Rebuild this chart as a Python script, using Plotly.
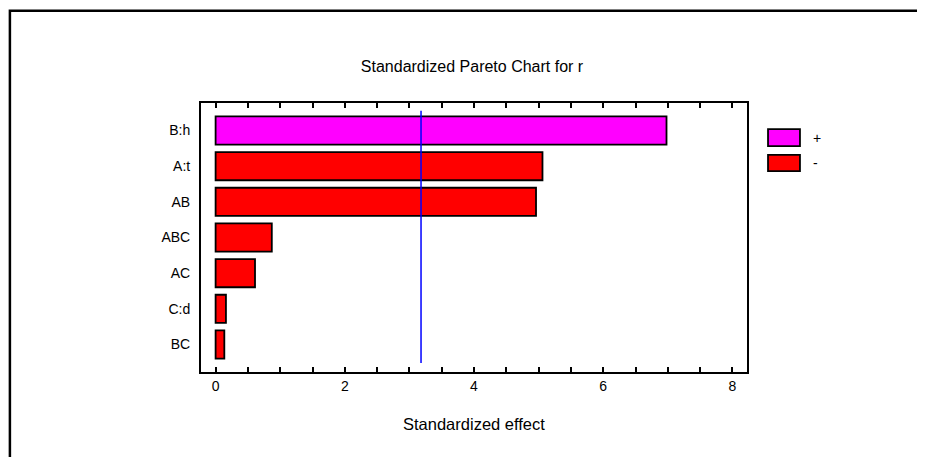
import plotly.graph_objects as go

# ---- data ----
factors = ["B:h", "A:t", "AB", "ABC", "AC", "C:d", "BC"]
effects = [6.98, 5.06, 4.96, 0.87, 0.61, 0.16, 0.135]
signs = ["+", "-", "-", "-", "-", "-", "-"]
critical_value = 3.18
x_ticks = [0, 2, 4, 6, 8]

FONT = "Liberation Sans Narrow, Liberation Sans, Arial, sans-serif"
colors = {"+": "#ff00ff", "-": "#ff0000"}

fig = go.Figure()
for s in ["+", "-"]:
    ys = [f for f, sg in zip(factors, signs) if sg == s]
    xs = [e for e, sg in zip(effects, signs) if sg == s]
    fig.add_trace(go.Bar(
        x=xs, y=ys, orientation="h", name=s,
        marker=dict(color=colors[s], line=dict(color="black", width=1.8)),
        width=0.79, showlegend=False,
    ))

# critical value line
fig.add_shape(type="line", xref="x", yref="paper",
              x0=critical_value, x1=critical_value, y0=0.033, y1=0.971,
              line=dict(color="#0000ff", width=1.5))

# outer frame
fig.add_shape(type="rect", xref="paper", yref="paper",
              x0=-0.350, x1=1.40, y0=-0.45, y1=1.343,
              line=dict(color="black", width=2.5), layer="below")

# legend drawn as boxes + labels
leg = [("+", 0.903, 0.840), ("-", 0.807, 0.747)]
for s, y1, y0 in leg:
    fig.add_shape(type="rect", xref="paper", yref="paper",
                  x0=1.0385, x1=1.097, y0=y0, y1=y1,
                  fillcolor=colors[s], line=dict(color="black", width=1.8))
    fig.add_annotation(xref="paper", yref="paper", x=1.117, y=(y0 + y1) / 2,
                       text=s, showarrow=False, xanchor="left", yanchor="middle",
                       font=dict(family=FONT, size=14, color="black"))

# x-axis title
fig.add_annotation(xref="paper", yref="paper", x=0.50, y=(372 - 424) / 269,
                   text="Standardized effect", showarrow=False,
                   xanchor="center", yanchor="middle",
                   font=dict(family=FONT, size=16.5, color="black"))

fig.update_layout(
    width=925, height=457,
    margin=dict(l=193, r=186, t=95, b=93),
    paper_bgcolor="white", plot_bgcolor="white",
    barmode="overlay",
    title=dict(text="Standardized Pareto Chart for r", x=(472 - 8) / 925, y=1 - (66 - 8) / 457,
               xanchor="center", yanchor="middle",
               font=dict(family=FONT, size=16, color="black")),
    font=dict(family=FONT, color="black"),
    xaxis=dict(range=[-0.226, 8.226], tickvals=x_ticks, ticks="inside", ticklen=5,
               tickwidth=1.5, tickcolor="black",
               minor=dict(dtick=0.5, ticks="inside", ticklen=5, tickwidth=1.5, tickcolor="black"),
               showline=True, linewidth=2, linecolor="black", mirror="ticks",
               showgrid=False, zeroline=False,
               tickfont=dict(family=FONT, size=14, color="black")),
    yaxis=dict(categoryorder="array", categoryarray=factors,
               range=[6.77, -0.77], showline=True, linewidth=2, linecolor="black",
               mirror=True, ticks="", showgrid=False, ticklabelstandoff=6,
               tickfont=dict(family=FONT, size=14, color="black")),
)

fig.write_html("out.html")
